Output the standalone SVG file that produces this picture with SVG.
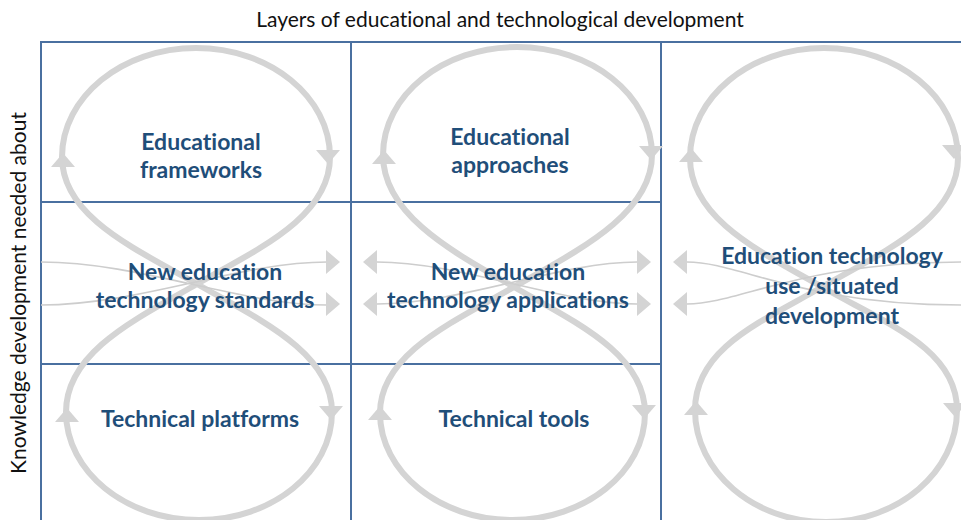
<svg xmlns="http://www.w3.org/2000/svg" xmlns:xlink="http://www.w3.org/1999/xlink" width="961" height="520" viewBox="0 0 961 520">
<style>
.grid{stroke:#4a70a0;stroke-width:2;fill:none}
.loop{stroke:#d4d4d4;stroke-width:6;fill:none}
.thin{stroke:#cdcdcd;stroke-width:1.6;fill:none}
.head{fill:#d4d4d4}
text{font-variant-ligatures:none;font-feature-settings:"liga" 0,"clig" 0}
.lbl{font-family:Lato,"Open Sans","Liberation Sans",sans-serif;font-weight:bold;font-size:23px;fill:#1f4e79;text-anchor:middle}
.axis{font-family:Lato,"Open Sans","Liberation Sans",sans-serif;font-size:21px;fill:#111;text-anchor:middle}
</style>
<defs>
<polygon id="ah" points="0,-7 12,7 -12,7"/>
</defs>
<rect width="961" height="520" fill="#fff"/>
<g id="grid">
<path class="grid" d="M41,520 V42 H961 M351,42 V520 M661,42 V520 M41,202 H661 M41,364 H661"/>
</g>
<g id="connectors">
<path class="loop" d="M197,284 C136,249 62,217 62,157 C62,97 122,48 196,48 C270,48 330,97 330,157 C330,217 258,249 197,284"/>
<path class="loop" d="M197,284 C136,319 66,352 66,412 C66,472 126,520 199,520 C272,520 332,472 332,412 C332,352 258,319 197,284"/>
<path class="loop" d="M514,287 C453,252 383,215 383,155 C383,95 443,47 517,47 C591,47 652,95 652,155 C652,215 575,252 514,287"/>
<path class="loop" d="M514,287 C453,322 380,354 380,413 C380,472 440,520 512,520 C585,520 645,472 645,413 C645,354 575,322 514,287"/>
<path class="loop" d="M822,287 C761,252 690,219 690,158 C690,97 750,48 824,48 C898,48 958,97 958,158 C958,219 883,252 822,287"/>
<path class="loop" d="M822,287 C761,322 695,348 695,410 C695,472 754,522 826,522 C898,522 957,472 957,410 C957,348 883,322 822,287"/>
<g class="head">
<use xlink:href="#ah" transform="translate(63,160)"/>
<use xlink:href="#ah" transform="translate(328,157) rotate(180)"/>
<use xlink:href="#ah" transform="translate(67,415)"/>
<use xlink:href="#ah" transform="translate(331,413) rotate(180)"/>
<use xlink:href="#ah" transform="translate(384,157)"/>
<use xlink:href="#ah" transform="translate(651,153) rotate(180)"/>
<use xlink:href="#ah" transform="translate(380,413)"/>
<use xlink:href="#ah" transform="translate(644,412) rotate(180)"/>
<use xlink:href="#ah" transform="translate(691,155)"/>
<use xlink:href="#ah" transform="translate(954,152) rotate(180)"/>
<use xlink:href="#ah" transform="translate(696,408)"/>
<use xlink:href="#ah" transform="translate(955,410) rotate(180)"/>
</g>
<path class="thin" d="M41,262 C140,262 240,305 327,305 M41,305 C140,305 240,262 327,262"/>
<path class="thin" d="M377,262 C460,262 560,304 637,304 M377,304 C460,304 560,262 637,262"/>
<path class="thin" d="M687,262 C740,262 800,305 961,305 M687,304 C740,304 800,262 961,262"/>
<g class="head">
<use xlink:href="#ah" transform="translate(333,262) rotate(90)"/>
<use xlink:href="#ah" transform="translate(333,304) rotate(90)"/>
<use xlink:href="#ah" transform="translate(370,262) rotate(-90)"/>
<use xlink:href="#ah" transform="translate(370,304) rotate(-90)"/>
<use xlink:href="#ah" transform="translate(644,262) rotate(90)"/>
<use xlink:href="#ah" transform="translate(644,304) rotate(90)"/>
<use xlink:href="#ah" transform="translate(680,262) rotate(-90)"/>
<use xlink:href="#ah" transform="translate(680,304) rotate(-90)"/>
</g>
</g>
<text class="axis" x="500" y="27">Layers of educational and technological development</text>
<text class="axis" transform="translate(26,293) rotate(-90)">Knowledge development needed about</text>
<g id="educational-frameworks"><text class="lbl" x="201" y="150">Educational</text><text class="lbl" x="201" y="178">frameworks</text></g>
<g id="educational-approaches"><text class="lbl" x="510" y="145">Educational</text><text class="lbl" x="510" y="173">approaches</text></g>
<g id="standards"><text class="lbl" x="205" y="280">New education</text><text class="lbl" x="205" y="308">technology standards</text></g>
<g id="applications"><text class="lbl" x="508" y="280">New education</text><text class="lbl" x="508" y="308">technology applications</text></g>
<g id="platforms"><text class="lbl" x="200" y="427">Technical platforms</text></g>
<g id="tools"><text class="lbl" x="514" y="427">Technical tools</text></g>
<g id="situated"><text class="lbl" x="832" y="264">Education technology</text><text class="lbl" x="832" y="294">use /situated</text><text class="lbl" x="832" y="324">development</text></g>
</svg>
